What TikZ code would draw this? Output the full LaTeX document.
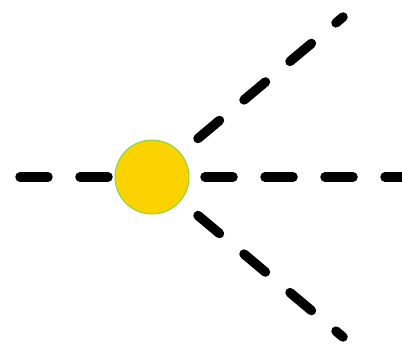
\documentclass[tikz,border=0pt]{standalone}
\usepackage{tikz}
\usetikzlibrary{backgrounds}

\definecolor{sunyellow}{RGB}{250,211,0}
\definecolor{rimgreen}{RGB}{130,215,70}

\tikzset{
  ray/.style={line width=0.285cm, line cap=round, dash pattern=on 0.84cm off 0.96cm},
}

\begin{document}
\begin{tikzpicture}[x=0.03cm, y=-0.03cm]
\useasboundingbox (0,0) rectangle (402,345);

\node (sun) at (152,177) [circle, draw=rimgreen, line width=0.03cm, fill=sunyellow, inner sep=0pt, minimum size=2.22cm] {};

\coordinate (west) at (20,177);
\coordinate (east) at (412,177);
\coordinate (up) at (343,17);
\coordinate (down) at (343,337);

\begin{scope}[on background layer]
\draw[ray, dash phase=0.48cm] (sun.center) -- (west);
\draw[ray, dash phase=0.21cm] (sun.center) -- (east);
\draw[ray] (sun.center) -- (up);
\draw[ray] (sun.center) -- (down);
\end{scope}

\end{tikzpicture}
\end{document}
